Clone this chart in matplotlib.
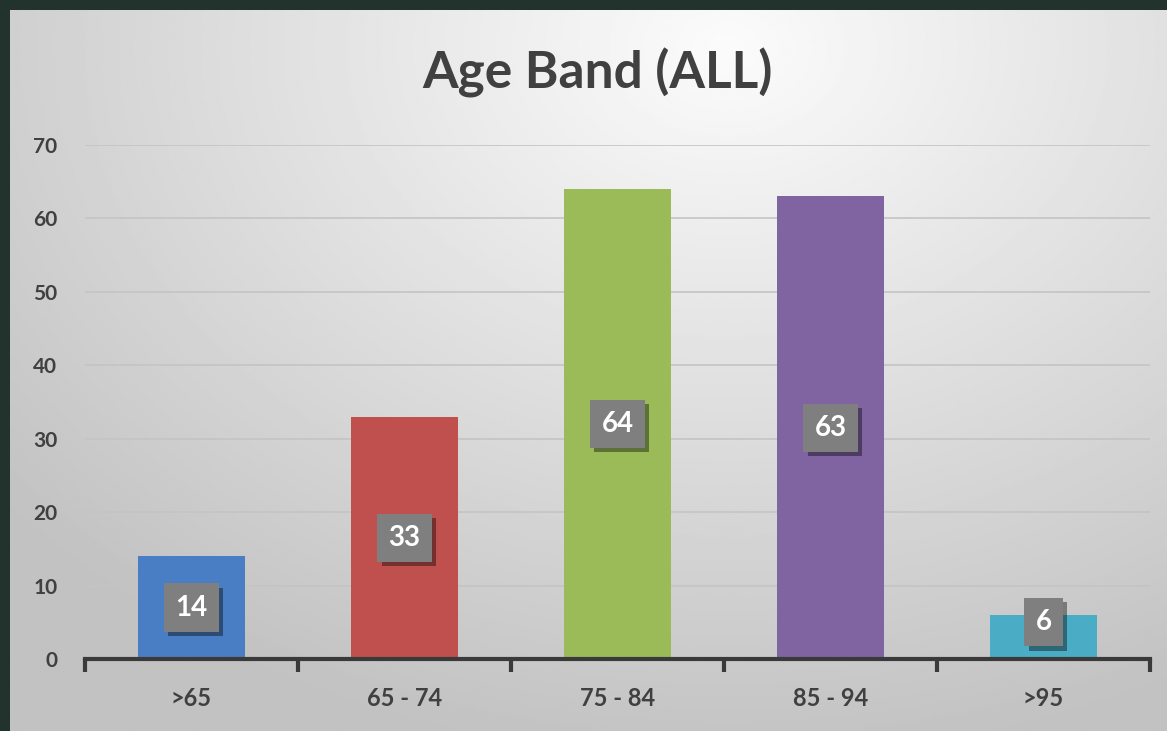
import numpy as np
import matplotlib
matplotlib.use("Agg")
import matplotlib.pyplot as plt
import matplotlib.patheffects as pe

plt.rcParams['font.family'] = ['Lato', 'DejaVu Sans']

# data
categories = ['>65', '65 - 74', '75 - 84', '85 - 94', '>95']
counts = [14, 33, 64, 63, 6]
bar_colors = ['#4a7ec4', '#c0504d', '#9bbb59', '#8064a2', '#4bacc6']
y_ticks = [0, 10, 20, 30, 40, 50, 60, 70]

W, H = 1167, 731
fig = plt.figure(figsize=(W / 100, H / 100), dpi=100)
fig.patch.set_facecolor('#22332e')

# background panel with radial gradient
bg = fig.add_axes([10 / W, 0, 1 - 10 / W, 1 - 10 / H], zorder=0)
yy, xx = np.mgrid[0:1:300j, 0:1:480j]
d = np.sqrt(((xx - 0.62) * 1.1) ** 2 + ((yy - 0.05) * 0.9) ** 2)
shade = np.clip(0.985 - 0.25 * d, 0.76, 1.0)
bg.imshow(shade, cmap='gray', vmin=0, vmax=1, aspect='auto', extent=[0, 1, 1, 0])
bg.axis('off')

ax = fig.add_axes([85 / W, 1 - 659 / H, (1150 - 85) / W, (659 - 145) / H], zorder=1)
ax.patch.set_alpha(0)

x = np.arange(len(categories))
ax.bar(x, counts, width=0.5, color=bar_colors, zorder=2)

ax.set_xlim(-0.5, len(categories) - 0.5)
ax.set_ylim(0, 70)
ax.set_yticks(y_ticks)
ax.yaxis.grid(True, color='#c4c4c4', linewidth=1.2, zorder=0)
ax.set_axisbelow(True)

for s in ['top', 'right', 'left']:
    ax.spines[s].set_visible(False)
ax.spines['bottom'].set_color('#3a3a3a')
ax.spines['bottom'].set_linewidth(3)
ax.spines['bottom'].set_zorder(3)

ax.tick_params(axis='y', length=0, pad=20, labelsize=15, labelcolor='#404040')
for lbl in ax.get_yticklabels():
    lbl.set_fontweight('bold')

# category boundary ticks
ax.set_xticks(np.arange(-0.5, len(categories)), minor=False)
ax.set_xticklabels([])
ax.tick_params(axis='x', direction='out', length=9, width=3, color='#3a3a3a')
ax.set_xticks(x, minor=True)
ax.set_xticklabels(categories, minor=True)
ax.tick_params(axis='x', which='minor', length=0, pad=20, labelsize=17, labelcolor='#404040')
for lbl in ax.get_xticklabels(minor=True):
    lbl.set_fontweight('bold')

# data labels
for xi, v in zip(x, counts):
    t = ax.text(xi, max(v / 2, 5), str(v), ha='center', va='center', color='white',
                fontsize=20, fontweight='bold', zorder=4,
                bbox=dict(boxstyle='square,pad=0.4', facecolor='#7f7f7f', edgecolor='none'))
    t.get_bbox_patch().set_path_effects([pe.withSimplePatchShadow(offset=(3, -3), shadow_rgbFace='black', alpha=0.4)])

fig.text(597 / W, 1 - 73 / H, 'Age Band (ALL)', ha='center', va='center',
         fontsize=37, fontweight='bold', color='#404040')

fig.savefig('out.png', dpi=100, facecolor=fig.get_facecolor())
